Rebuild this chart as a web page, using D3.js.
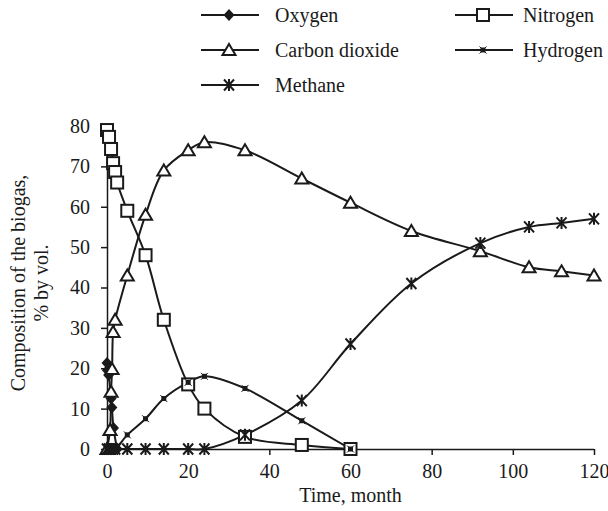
<!DOCTYPE html>
<html>
<head>
<meta charset="utf-8">
<script src="https://cdn.jsdelivr.net/npm/d3@7"></script>
</head>
<body style="margin:0">
<svg id="chart" width="608" height="511"></svg>
<script>
// Biogas composition over time (months), % by volume
const oxygenT   = [0, 0.1, 0.4, 1, 1.2, 1.6, 2.5];
const oxygenV   = [21.3, 19.5, 18.3, 12.5, 10.3, 5.2, 0];

const nitrogenT = [0, 0.5, 1, 1.5, 2, 2.5, 5, 9.5, 14, 20, 24, 34, 48, 60];
const nitrogenV = [79, 77.3, 74.3, 70.8, 68.6, 66, 59, 48, 32, 16, 10, 3, 1, 0];

const co2T      = [0, 0.75, 1, 1.25, 1.5, 2, 5, 9.5, 14, 20, 24, 34, 48, 60, 75, 92, 104, 112, 120];
const co2V      = [0, 4.7, 14.2, 19.8, 29, 32, 43, 58, 69, 74, 76, 74, 67, 61, 54, 49, 45, 44, 43];

const hydrogenT = [0, 1, 2, 5, 9.5, 14, 20, 24, 34, 48, 60];
const hydrogenV = [0, 0, 0, 3.5, 7.5, 12.5, 16.5, 18, 15, 7, 0];

const methaneT  = [0, 0.5, 1, 1.5, 2, 5, 9.5, 14, 20, 24, 34, 48, 60, 75, 92, 104, 112, 120];
const methaneV  = [0, 0, 0, 0, 0, 0, 0, 0, 0, 0, 3.5, 12, 26, 41, 51, 55, 56, 57];

const xTicks = [0, 20, 40, 60, 80, 100, 120];
const yTicks = [0, 10, 20, 30, 40, 50, 60, 70, 80];

const series = [
  { name: "Oxygen",         t: oxygenT,   v: oxygenV,   marker: "diamond" },
  { name: "Nitrogen",       t: nitrogenT, v: nitrogenV, marker: "square" },
  { name: "Carbon dioxide", t: co2T,      v: co2V,      marker: "triangle" },
  { name: "Hydrogen",       t: hydrogenT, v: hydrogenV, marker: "dot" },
  { name: "Methane",        t: methaneT,  v: methaneV,  marker: "star" }
];

const FONT = "Liberation Serif";
const FS = 20;
const svg = d3.select("#chart");
const x = d3.scaleLinear().domain([0, 120]).range([107, 594]);
const y = d3.scaleLinear().domain([0, 80]).range([449, 126]);
const ink = "#1a1a1a";

// Serif text helper
function serif(sel) {
  return sel.attr("font-family", FONT).attr("font-size", FS).attr("fill", ink)
    .style("font-family", FONT, "important").style("font-size", FS + "px", "important");
}

// Marker glyphs
function drawMarker(g, type) {
  if (type === "diamond") {
    g.append("path").attr("d", "M0,-6L5.5,0L0,6L-5.5,0Z").attr("fill", ink);
  } else if (type === "square") {
    g.append("rect").attr("x", -6).attr("y", -6).attr("width", 12).attr("height", 12)
      .attr("fill", "#fff").attr("stroke", ink).attr("stroke-width", 2);
  } else if (type === "triangle") {
    g.append("path").attr("d", "M0,-6L6.5,5L-6.5,5Z")
      .attr("fill", "#fff").attr("stroke", ink).attr("stroke-width", 2);
  } else if (type === "dot") {
    g.append("rect").attr("x", -2.5).attr("y", -2.5).attr("width", 5).attr("height", 5).attr("fill", ink);
    g.append("path").attr("d", "M-3.5,-3.5L3.5,3.5M-3.5,3.5L3.5,-3.5")
      .attr("stroke", ink).attr("stroke-width", 1);
  } else if (type === "star") {
    g.append("path").attr("d", "M-5,-5.5L5,5.5M-5,5.5L5,-5.5M0,-6L0,6")
      .attr("stroke", ink).attr("stroke-width", 2).attr("fill", "none");
  }
}

// Axes
const yAxis = d3.axisLeft(y).tickValues(yTicks).tickSize(6).tickPadding(11).tickFormat(d3.format("d"));
const xAxis = d3.axisBottom(x).tickValues(xTicks).tickSize(6).tickPadding(6).tickFormat(d3.format("d"));

const gy = svg.append("g").attr("transform", `translate(${x(0)},0)`).call(yAxis);
const gx = svg.append("g").attr("transform", `translate(0,${y(0)})`).call(xAxis);
[gx, gy].forEach(g => {
  g.attr("font-family", FONT).attr("font-size", FS);
  g.select(".domain").attr("stroke", ink).attr("stroke-width", 1.5);
  g.selectAll(".tick line").attr("stroke", ink).attr("stroke-width", 1.5);
  serif(g.selectAll(".tick text"));
});
gx.select(".domain").attr("d", `M${x(0)},0.5H${x(120)}`);
gx.selectAll(".tick text").attr("dy", "0.85em");
gy.select(".domain").attr("d", `M0.5,${y(80)}V${y(0)}`);

// Axis titles
serif(svg.append("text")).attr("x", x(60)).attr("y", 502).attr("text-anchor", "middle").text("Time, month");
const yl = serif(svg.append("text")).attr("transform", "translate(25,283) rotate(-90)").attr("text-anchor", "middle");
yl.append("tspan").attr("x", 0).attr("dy", 0).text("Composition of the biogas,");
yl.append("tspan").attr("x", 0).attr("dy", 23).text("% by vol.");

// Lines
const line = d3.line().x(d => x(d[0])).y(d => y(d[1])).curve(d3.curveCatmullRom.alpha(0.5));
const plot = svg.append("g");
series.forEach(s => {
  const pts = s.t.map((t, i) => [t, s.v[i]]);
  plot.append("path").datum(pts).attr("d", line)
    .attr("fill", "none").attr("stroke", ink).attr("stroke-width", 2);
});
series.forEach(s => {
  s.t.forEach((t, i) => {
    const g = plot.append("g").attr("transform", `translate(${x(t)},${y(s.v[i])})`);
    drawMarker(g, s.marker);
  });
});

// Legend
const legendItems = [
  { name: "Oxygen",         marker: "diamond",  col: 0, row: 0 },
  { name: "Nitrogen",       marker: "square",   col: 1, row: 0 },
  { name: "Carbon dioxide", marker: "triangle", col: 0, row: 1 },
  { name: "Hydrogen",       marker: "dot",      col: 1, row: 1 },
  { name: "Methane",        marker: "star",     col: 0, row: 2 }
];
const colLine = [201, 455];
const colText = [275, 523];
const lg = svg.append("g");
legendItems.forEach(it => {
  const gx0 = colLine[it.col], gy0 = 15 + it.row * 35;
  lg.append("line").attr("x1", gx0).attr("x2", gx0 + 58).attr("y1", gy0).attr("y2", gy0)
    .attr("stroke", ink).attr("stroke-width", 2);
  drawMarker(lg.append("g").attr("transform", `translate(${gx0 + 28},${gy0})`), it.marker);
  serif(lg.append("text")).attr("x", colText[it.col]).attr("y", gy0 + 6.5).text(it.name);
});
</script>
</body>
</html>
